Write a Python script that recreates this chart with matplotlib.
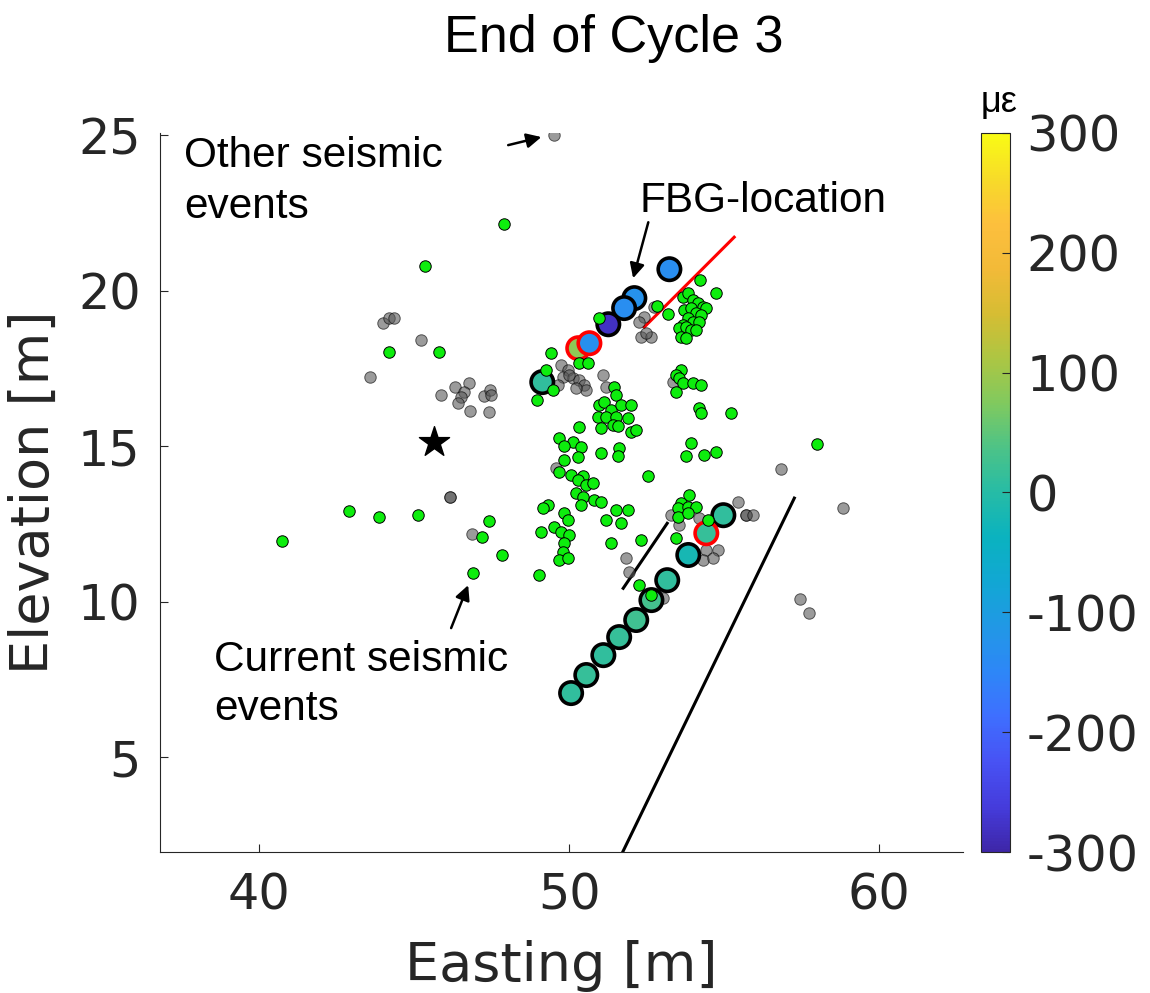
import numpy as np
import matplotlib
matplotlib.use("Agg")
import matplotlib.pyplot as plt
from matplotlib.colors import LinearSegmentedColormap, Normalize

plt.rcParams['axes.unicode_minus'] = False

# ---------------- data ----------------
# current seismic events (green)
cur_x = [47.90, 45.35, 44.19, 45.81, 42.90, 43.87, 45.13, 40.74, 47.42, 47.19, 47.84, 46.90,
         50.97, 49.42, 49.26, 49.48, 48.97, 50.32, 50.61, 52.84, 53.19, 54.23, 54.74,
         53.68, 53.84, 54.00, 54.16, 54.32, 54.42, 53.71, 53.94, 54.10, 54.26, 53.84, 54.00,
         54.19, 53.68, 53.55, 53.77, 53.94, 53.61, 53.77, 54.10,
         53.61, 53.45, 53.55, 53.68, 54.00, 54.26, 53.45, 54.19, 54.26, 55.23,
         51.45, 51.52, 50.97, 51.13, 51.35, 51.68, 52.00, 50.94, 51.19, 51.52, 51.90, 51.03,
         51.42, 51.58, 52.00, 52.16, 50.32, 49.68, 50.13, 50.39, 49.84, 50.29, 51.03, 51.61,
         51.58, 49.84, 49.68, 50.06, 50.45, 50.29, 50.55, 50.77, 50.23, 50.45, 50.81, 51.03,
         50.39, 52.55, 53.94, 53.77, 54.35, 54.74, 49.32, 49.16, 49.84, 49.97, 49.10, 49.52,
         49.74, 50.00, 49.84, 49.81, 49.68, 49.97, 49.03, 51.19, 51.52, 51.90, 51.68, 51.35,
         52.32, 53.87, 53.61, 53.52, 53.84, 54.10, 53.52, 53.84, 53.45, 54.48, 52.26, 52.65,
         58.00]
cur_y = [22.14, 20.79, 18.02, 18.02, 12.91, 12.72, 12.78, 11.95, 12.59, 12.07, 11.50, 10.92,
         19.12, 17.99, 17.44, 16.80, 16.48, 17.67, 17.67, 19.50, 19.24, 20.34, 19.92,
         19.79, 19.92, 19.69, 19.60, 19.47, 19.44, 19.37, 19.44, 19.28, 19.21, 19.12, 18.99,
         18.99, 18.89, 18.79, 18.83, 18.73, 18.50, 18.47, 18.73,
         17.44, 17.28, 17.19, 17.03, 17.03, 16.96, 16.74, 16.22, 16.06, 16.06,
         16.90, 16.64, 16.32, 16.41, 16.16, 16.32, 16.32, 15.93, 15.93, 15.93, 15.90, 15.58,
         15.68, 15.64, 15.45, 15.51, 15.61, 15.26, 15.13, 14.97, 15.00, 14.65, 14.78, 14.94,
         14.68, 14.55, 14.16, 14.07, 14.04, 13.91, 13.75, 13.81, 13.49, 13.36, 13.26, 13.20,
         13.10, 14.04, 15.10, 14.68, 14.71, 14.81, 13.10, 13.01, 12.85, 12.62, 12.23, 12.40,
         12.23, 12.14, 11.88, 11.59, 11.33, 11.40, 10.85, 12.62, 12.94, 12.94, 12.52, 11.88,
         11.98, 13.42, 13.17, 13.01, 13.04, 13.04, 12.72, 12.85, 12.04, 12.62, 10.53, 10.21,
         15.06]

# other seismic events (grey)
oth_x = [49.52, 44.00, 44.19, 44.35, 45.23, 43.58, 45.87, 46.32, 46.77, 46.61, 46.52, 46.42,
         46.81, 47.42, 47.26, 47.45, 47.48, 46.16, 46.16, 46.87,
         49.74, 49.97, 49.81, 50.13, 50.32, 50.48, 50.55, 50.23, 49.65, 50.00,
         51.10, 51.19, 52.42, 52.26, 52.32, 52.65, 52.48, 52.74, 53.35, 49.58,
         53.29, 53.55, 54.19, 55.45, 55.71, 55.71, 55.94, 54.42, 54.81, 54.32, 54.65,
         51.84, 51.94, 53.03, 56.84, 58.84, 57.45, 57.74]
oth_y = [25.00, 18.95, 19.12, 19.12, 18.41, 17.22, 16.64, 16.90, 17.03, 16.74, 16.58, 16.38,
         16.13, 16.09, 16.61, 16.80, 16.64, 13.36, 13.36, 12.17,
         17.60, 17.44, 17.22, 17.19, 17.12, 16.96, 16.80, 16.87, 16.96, 17.30,
         17.28, 16.90, 19.15, 18.99, 18.50, 18.50, 18.63, 19.47, 17.06, 14.29,
         12.78, 12.46, 12.69, 13.20, 12.78, 12.78, 12.78, 11.66, 11.66, 11.33, 11.40,
         11.40, 10.95, 10.11, 14.26, 13.01, 10.08, 9.63]

# FBG locations with strain (micro-strain)
fbg_x = [50.29, 53.23, 52.10, 51.77, 51.26, 50.65, 49.13,
         54.97, 54.42, 53.84, 53.16, 52.65, 52.16, 51.61, 51.10, 50.55, 50.06]
fbg_y = [18.15, 20.69, 19.76, 19.44, 18.92, 18.31, 17.06,
         12.78, 12.20, 11.50, 10.69, 10.05, 9.41, 8.86, 8.28, 7.64, 7.06]
fbg_strain = [85, -135, -125, -135, -280, -130, 10,
              10, 15, -20, 10, 30, 25, 15, 10, 15, 10]
fbg_red = [True, False, False, False, False, True, False,
           False, True, False, False, False, False, False, False, False, False]

# structures
red_line_x = [52.42, 55.32]
red_line_y = [18.83, 21.72]
short_line_x = [51.74, 53.16]
short_line_y = [10.43, 12.52]
long_line_x = [51.70, 57.26]
long_line_y = [1.90, 13.33]
star_x, star_y = [45.65], [15.13]

cbar_ticks = [-300, -200, -100, 0, 100, 200, 300]

# ---------------- colormap (parula-like) ----------------
parula_pts = [
    (0.000, (0.2422, 0.1504, 0.6603)),
    (0.062, (0.2717, 0.2356, 0.8634)),
    (0.125, (0.2810, 0.3228, 0.9579)),
    (0.188, (0.2440, 0.4358, 0.9988)),
    (0.250, (0.1786, 0.5289, 0.9682)),
    (0.312, (0.1300, 0.5950, 0.9000)),
    (0.375, (0.0690, 0.6550, 0.8300)),
    (0.438, (0.0400, 0.7000, 0.7500)),
    (0.500, (0.1500, 0.7350, 0.6500)),
    (0.562, (0.3000, 0.7650, 0.5300)),
    (0.625, (0.5044, 0.7900, 0.3700)),
    (0.688, (0.6800, 0.7750, 0.2600)),
    (0.750, (0.8400, 0.7400, 0.2000)),
    (0.812, (0.9500, 0.7300, 0.2200)),
    (0.875, (0.9900, 0.7500, 0.2400)),
    (0.938, (0.9700, 0.8600, 0.1600)),
    (1.000, (0.9769, 0.9839, 0.0805)),
]
parula = LinearSegmentedColormap.from_list("parula", parula_pts)
norm = Normalize(vmin=-300, vmax=300)

# ---------------- figure ----------------
W, H = 1150, 993
fig = plt.figure(figsize=(W / 100, H / 100), dpi=100)
ax = fig.add_axes([160 / W, 1 - 852 / H, 803 / W, 719 / H])
cax = fig.add_axes([981 / W, 1 - 852 / H, 29 / W, 719 / H])

ax.set_xlim(36.8, 62.7)
ax.set_ylim(1.95, 25.07)

dark = '#262626'
# lines
ax.plot(long_line_x, long_line_y, color='k', lw=2.2, zorder=2)
ax.plot(short_line_x, short_line_y, color='k', lw=2.2, zorder=2)
ax.plot(red_line_x, red_line_y, color='red', lw=2.2, zorder=2)

# other events
ax.scatter(oth_x, oth_y, s=68, facecolor=(0.35, 0.35, 0.35), edgecolor='k',
           linewidths=0.7, alpha=0.6, zorder=3)

# FBG circles
fx = np.array(fbg_x); fy = np.array(fbg_y); fs = np.array(fbg_strain)
ec = ['red' if r else 'k' for r in fbg_red]
sc = ax.scatter(fx, fy, s=260, c=fs, cmap=parula, norm=norm, edgecolors=ec,
                linewidths=2.6, zorder=4)

# current events
ax.scatter(cur_x, cur_y, s=68, facecolor=(0.05, 0.93, 0.05), edgecolor='k',
           linewidths=0.7, zorder=5)

# star
ax.scatter(star_x, star_y, s=520, marker='*', color='k', zorder=6)

# annotations
tfont = dict(family=['Liberation Sans', 'DejaVu Sans'], fontsize=30.5, color='k')
ax.text(37.58, 23.97, 'Other seismic', ha='left', va='baseline', **tfont)
ax.text(37.58, 22.33, 'events', ha='left', va='baseline', **tfont)
ax.text(52.26, 22.52, 'FBG-location', ha='left', va='baseline', **tfont)
ax.text(38.55, 7.76, 'Current seismic', ha='left', va='baseline', **tfont)
ax.text(38.55, 6.20, 'events', ha='left', va='baseline', **tfont)

aprops = dict(arrowstyle='-|>', color='k', lw=1.8, mutation_scale=22,
              shrinkA=0, shrinkB=0)
ax.annotate('', xy=(49.10, 24.94), xytext=(48.03, 24.68), arrowprops=aprops, zorder=7)
ax.annotate('', xy=(52.06, 20.40), xytext=(52.55, 22.20), arrowprops=aprops, zorder=7)
ax.annotate('', xy=(46.74, 10.53), xytext=(46.19, 9.15), arrowprops=aprops, zorder=7)

# axes style
for side in ['top', 'right']:
    ax.spines[side].set_visible(False)
for side in ['left', 'bottom']:
    ax.spines[side].set_color(dark)
    ax.spines[side].set_linewidth(0.8)
ax.set_xticks([40, 50, 60])
ax.set_yticks([5, 10, 15, 20, 25])
ax.tick_params(direction='in', length=6, width=0.8, color=dark, labelcolor=dark,
               labelsize=35.5)
ax.tick_params(axis='x', pad=14)
ax.tick_params(axis='y', pad=14)
ax.set_xlabel('Easting [m]', fontsize=39, color=dark)
ax.set_ylabel('Elevation [m]', fontsize=39, color=dark)
ax.xaxis.set_label_coords(0.5, -0.122)
ax.yaxis.set_label_coords(-0.125, 0.5)

# colorbar
cb = fig.colorbar(sc, cax=cax, ticks=cbar_ticks)
cb.outline.set_linewidth(0.8)
cb.outline.set_edgecolor(dark)
cax.tick_params(direction='in', length=6, width=0.8, color=dark, labelcolor=dark,
                labelsize=35.5, pad=12)
fig.text(999 / W, 1 - 112 / H, 'με', ha='center', va='baseline',
         fontsize=26, family=['Liberation Sans', 'DejaVu Sans'], color='k')

# title
fig.text(614 / W, 1 - 52 / H, 'End of Cycle 3', ha='center', va='baseline',
         fontsize=37.5, family=['Liberation Sans', 'DejaVu Sans'], color='k')

fig.savefig('out.png', dpi=100)
